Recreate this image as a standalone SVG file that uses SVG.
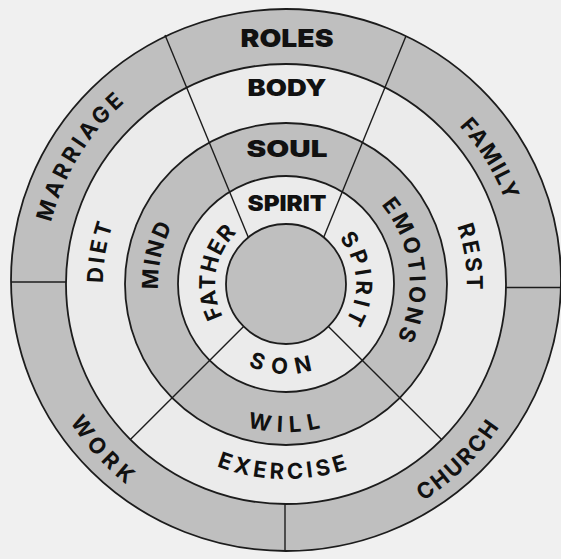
<svg xmlns="http://www.w3.org/2000/svg" width="561" height="559" viewBox="0 0 561 559">
<style>
.gray{fill:#bfbfbf;stroke:#1c1c1c;stroke-width:1.8}
.white{fill:#ebebeb;stroke:#1c1c1c;stroke-width:1.8}
.div{stroke:#1c1c1c;stroke-width:1.4;fill:none}
.hd{font-family:Inter,"DejaVu Sans",sans-serif;font-weight:900;fill:#111;text-anchor:middle}
.cv{font-family:Inter,"DejaVu Sans",sans-serif;font-weight:700;font-size:22px;fill:#111;text-anchor:middle}
</style>
<defs>
<path id="p-marriage" d="M125.0,466.0 A243,243 0 0 1 375.1,57.9"/>
<path id="p-family" d="M199.7,66.0 A234.5,234.5 0 0 1 441.7,459.4"/>
<path id="p-work" d="M83.9,126.1 A256.5,256.5 0 0 0 421.9,501.5"/>
<path id="p-church" d="M135.9,492.0 A256.5,256.5 0 0 0 498.2,139.8"/>
<path id="p-exercise" d="M93.3,313.8 A195,195 0 0 0 477.3,321.9"/>
<path id="p-will" d="M139.9,307.7 A148,148 0 0 0 431.4,311.7"/>
<path id="p-son" d="M196.5,293.7 A90,90 0 0 0 373.4,305.5"/>
<path id="p-diet" d="M221.3,455.2 A183,183 0 0 1 288.2,101.0"/>
<path id="p-mind" d="M237.4,402.4 A128,128 0 0 1 291.1,156.1"/>
<path id="p-father" d="M262.3,350.9 A71,71 0 0 1 285.4,213.0"/>
<path id="p-spirit" d="M292.7,214.3 A70,70 0 0 1 303.5,351.8"/>
<path id="p-emotions" d="M292.7,160.2 A124,124 0 0 1 322.0,402.6"/>
<path id="p-rest" d="M290.7,103.1 A181,181 0 0 1 343.4,455.6"/>
</defs>
<rect width="561" height="559" fill="#f0f0f0"/>
<g id="ring-roles"><ellipse class="gray" cx="286" cy="280" rx="275" ry="271"/></g>
<g id="ring-body"><circle class="white" cx="286" cy="284" r="220"/></g>
<g id="ring-soul"><circle class="gray" cx="286" cy="284" r="161"/></g>
<g id="ring-spirit"><circle class="white" cx="286" cy="284" r="108"/></g>
<g id="connectors">
<line class="div" x1="165" y1="35" x2="249" y2="239"/>
<line class="div" x1="406" y1="36" x2="323" y2="239"/>
<line class="div" x1="243.6" y1="326.4" x2="130.4" y2="439.6"/>
<line class="div" x1="328.4" y1="326.4" x2="441.6" y2="439.6"/>
<line class="div" x1="11" y1="282" x2="66" y2="282"/>
<line class="div" x1="506" y1="287.5" x2="561" y2="287.5"/>
<line class="div" x1="285" y1="504" x2="285" y2="551"/>
</g>
<g id="center"><circle class="gray" cx="286" cy="284" r="60"/></g>
<g id="top-labels">
<text class="hd" x="287" y="47" font-size="25" textLength="93" lengthAdjust="spacingAndGlyphs">ROLES</text>
<text class="hd" x="287" y="96" font-size="22.5" textLength="79" lengthAdjust="spacingAndGlyphs">BODY</text>
<text class="hd" x="287" y="157" font-size="23" textLength="81" lengthAdjust="spacingAndGlyphs">SOUL</text>
<text class="hd" x="287" y="211" font-size="22" textLength="79" lengthAdjust="spacingAndGlyphs">SPIRIT</text>
</g>
<g id="roles-labels">
<text class="cv"><textPath href="#p-marriage" startOffset="50%" textLength="143" lengthAdjust="spacing">MARRIAGE</textPath></text>
<text class="cv"><textPath href="#p-family" startOffset="50%" textLength="88" lengthAdjust="spacing">FAMILY</textPath></text>
<text class="cv"><textPath href="#p-work" startOffset="50%" textLength="85" lengthAdjust="spacing">WORK</textPath></text>
<text class="cv"><textPath href="#p-church" startOffset="50%" textLength="107" lengthAdjust="spacing">CHURCH</textPath></text>
</g>
<g id="body-labels">
<text class="cv"><textPath href="#p-diet" startOffset="49.3%" textLength="60" lengthAdjust="spacing">DIET</textPath></text>
<text class="cv"><textPath href="#p-rest" startOffset="50%" textLength="65" lengthAdjust="spacing">REST</textPath></text>
<text class="cv"><textPath href="#p-exercise" startOffset="50%" textLength="134" lengthAdjust="spacing">EXERCISE</textPath></text>
</g>
<g id="soul-labels">
<text class="cv"><textPath href="#p-mind" startOffset="50%" textLength="66" lengthAdjust="spacing">MIND</textPath></text>
<text class="cv"><textPath href="#p-emotions" startOffset="50%" textLength="142" lengthAdjust="spacing">EMOTIONS</textPath></text>
<text class="cv"><textPath href="#p-will" startOffset="50%" textLength="74" lengthAdjust="spacing">WILL</textPath></text>
</g>
<g id="spirit-labels">
<text class="cv"><textPath href="#p-father" startOffset="50%" textLength="91" lengthAdjust="spacing">FATHER</textPath></text>
<text class="cv"><textPath href="#p-spirit" startOffset="50%" textLength="89" lengthAdjust="spacing">SPIRIT</textPath></text>
<text class="cv"><textPath href="#p-son" startOffset="50%" textLength="66" lengthAdjust="spacing">SON</textPath></text>
</g>
</svg>
